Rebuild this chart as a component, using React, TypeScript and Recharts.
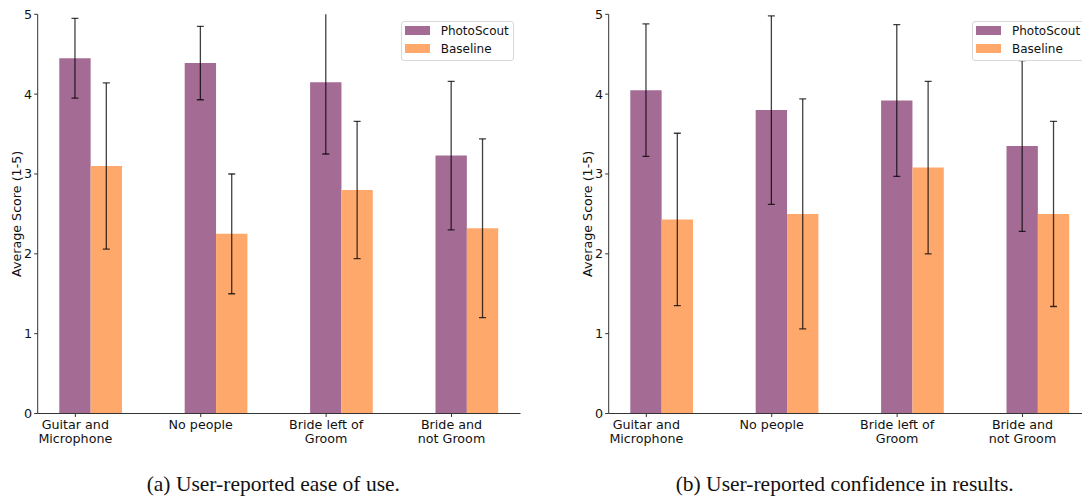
import React from 'react';
import { BarChart, Bar, XAxis, YAxis, ErrorBar } from 'recharts';

const categories = ['Guitar and\nMicrophone', 'No people', 'Bride left of\nGroom', 'Bride and\nnot Groom'];
const seriesNames = ['PhotoScout', 'Baseline'];
const seriesColors = ['#A46C94', '#FFA86C'];
const yTicks = [0, 1, 2, 3, 4, 5];
const xTicks = [0, 1, 2, 3];

// (a) ease of use
const easePhotoScout = [4.45, 4.39, 4.15, 3.23];
const easePhotoScoutErr = [0.5, 0.46, 0.9, 0.93];
const easeBaseline = [3.1, 2.25, 2.8, 2.32];
const easeBaselineErr = [1.04, 0.75, 0.86, 1.12];

// (b) confidence in results
const confPhotoScout = [4.05, 3.8, 3.92, 3.35];
const confPhotoScoutErr = [0.83, 1.18, 0.95, 1.07];
const confBaseline = [2.43, 2.5, 3.08, 2.5];
const confBaselineErr = [1.08, 1.44, 1.08, 1.16];

const captions = ['(a) User-reported ease of use.', '(b) User-reported confidence in results.'];
const yLabel = 'Average Score (1-5)';

const BAR_W = 0.25;
const AXIS_FONT = 'DejaVu Sans';

function buildRows(p: number[], pe: number[], b: number[], be: number[]) {
  return categories.map((_, i) => ({ x: i + BAR_W / 2, p: p[i], pe: pe[i], b: b[i], be: be[i] }));
}

const rowsA = buildRows(easePhotoScout, easePhotoScoutErr, easeBaseline, easeBaselineErr);
const rowsB = buildRows(confPhotoScout, confPhotoScoutErr, confBaseline, confBaselineErr);

const CatTick = (props: any) => {
  const { x, y, payload } = props;
  const lines = String(categories[payload.value] ?? '').split('\n');
  return (
    <text x={x} y={y} textAnchor="middle" fontFamily={AXIS_FONT} fontSize={12.7} fill="#111">
      {lines.map((l, i) => (
        <tspan key={i} x={x} dy={i === 0 ? 9.6 : 14.7}>{l}</tspan>
      ))}
    </text>
  );
};

const W = 541;
const H = 460;
const MARGIN = { top: 14.3, right: 20.5, bottom: 6.5, left: 7.7 };
const Y_AXIS_W = 30;
const X_AXIS_H = 40;
const PLOT = {
  x: MARGIN.left + Y_AXIS_W,
  y: MARGIN.top,
  w: W - MARGIN.left - Y_AXIS_W - MARGIN.right,
  h: H - MARGIN.top - MARGIN.bottom - X_AXIS_H,
};

function Panel({ rows, id }: { rows: any[]; id: string }) {
  return (
    <BarChart width={W} height={H} data={rows} margin={MARGIN} barGap={0}>
      <defs>
        <clipPath id={`${id}-eb`}>
          <rect x={PLOT.x} y={PLOT.y} width={PLOT.w} height={PLOT.h} />
        </clipPath>
      </defs>
      <XAxis
        type="number"
        dataKey="x"
        domain={[-0.3, 3.55]}
        allowDataOverflow
        ticks={xTicks}
        interval={0}
        tick={<CatTick />}
        tickSize={3.5}
        height={X_AXIS_H}
        axisLine={{ stroke: '#333', strokeWidth: 1 }}
        tickLine={{ stroke: '#333' }}
      />
      <YAxis
        type="number"
        domain={[0, 5]}
        allowDataOverflow
        ticks={yTicks}
        interval={0}
        tickSize={3.5}
        tickMargin={2}
        width={Y_AXIS_W}
        axisLine={{ stroke: '#333', strokeWidth: 1 }}
        tickLine={{ stroke: '#333' }}
        tick={{ fontSize: 12.7, fill: '#111', fontFamily: AXIS_FONT }}
        label={{
          value: yLabel,
          angle: -90,
          position: 'insideLeft',
          offset: 8.3,
          style: { textAnchor: 'middle', fontSize: 12.7, fontFamily: AXIS_FONT, fill: '#111' },
        }}
      />
      <Bar dataKey="p" name={seriesNames[0]} fill={seriesColors[0]} barSize={31.35} isAnimationActive={false}>
        <ErrorBar dataKey="pe" width={3.5} stroke="#000" strokeOpacity={0.75} strokeWidth={1.3} />
      </Bar>
      <Bar dataKey="b" name={seriesNames[1]} fill={seriesColors[1]} barSize={31.35} isAnimationActive={false}>
        <ErrorBar dataKey="be" width={3.5} stroke="#000" strokeOpacity={0.75} strokeWidth={1.3} />
      </Bar>
    </BarChart>
  );
}

function LegendBox() {
  return (
    <div
      style={{
        position: 'absolute',
        left: 400.7,
        top: 21,
        width: 113.3,
        height: 39.7,
        boxSizing: 'border-box',
        border: '1px solid #d8d8d8',
        borderRadius: 3,
        background: 'rgba(255,255,255,0.8)',
        fontFamily: AXIS_FONT,
        fontSize: 12,
        color: '#111',
      }}
    >
      {seriesNames.map((n, i) => (
        <div key={n} style={{ position: 'absolute', left: 0, top: i * 18, height: 18, width: '100%' }}>
          <div style={{ position: 'absolute', left: 3.3, top: 4, width: 25, height: 9, background: seriesColors[i] }} />
          <div style={{ position: 'absolute', left: 39, top: 0, lineHeight: '18px', whiteSpace: 'nowrap' }}>{n}</div>
        </div>
      ))}
    </div>
  );
}

const css = `
#panelA .recharts-errorBar { clip-path: url(#panelA-eb); }
#panelB .recharts-errorBar { clip-path: url(#panelB-eb); }
`;

export default function App() {
  return (
    <div style={{ position: 'absolute', left: 0, top: 0, width: 1082, height: 496, overflow: 'hidden', background: '#fff' }}>
      <style>{css}</style>
      <div id="panelA" style={{ position: 'absolute', left: 0, top: 0, width: W, height: H }}>
        <Panel rows={rowsA} id="panelA" />
        <LegendBox />
      </div>
      <div id="panelB" style={{ position: 'absolute', left: 571.3, top: 0, width: W, height: H }}>
        <Panel rows={rowsB} id="panelB" />
        <LegendBox />
      </div>
      <svg style={{ position: 'absolute', left: 0, top: 0 }} width={1082} height={496} pointerEvents="none">
        <text x={273.3} y={491} textAnchor="middle" fontFamily="Liberation Serif" fontSize={21.5} fill="#111">
          {captions[0]}
        </text>
        <text x={844.7} y={491} textAnchor="middle" fontFamily="Liberation Serif" fontSize={21.5} fill="#111">
          {captions[1]}
        </text>
      </svg>
    </div>
  );
}
